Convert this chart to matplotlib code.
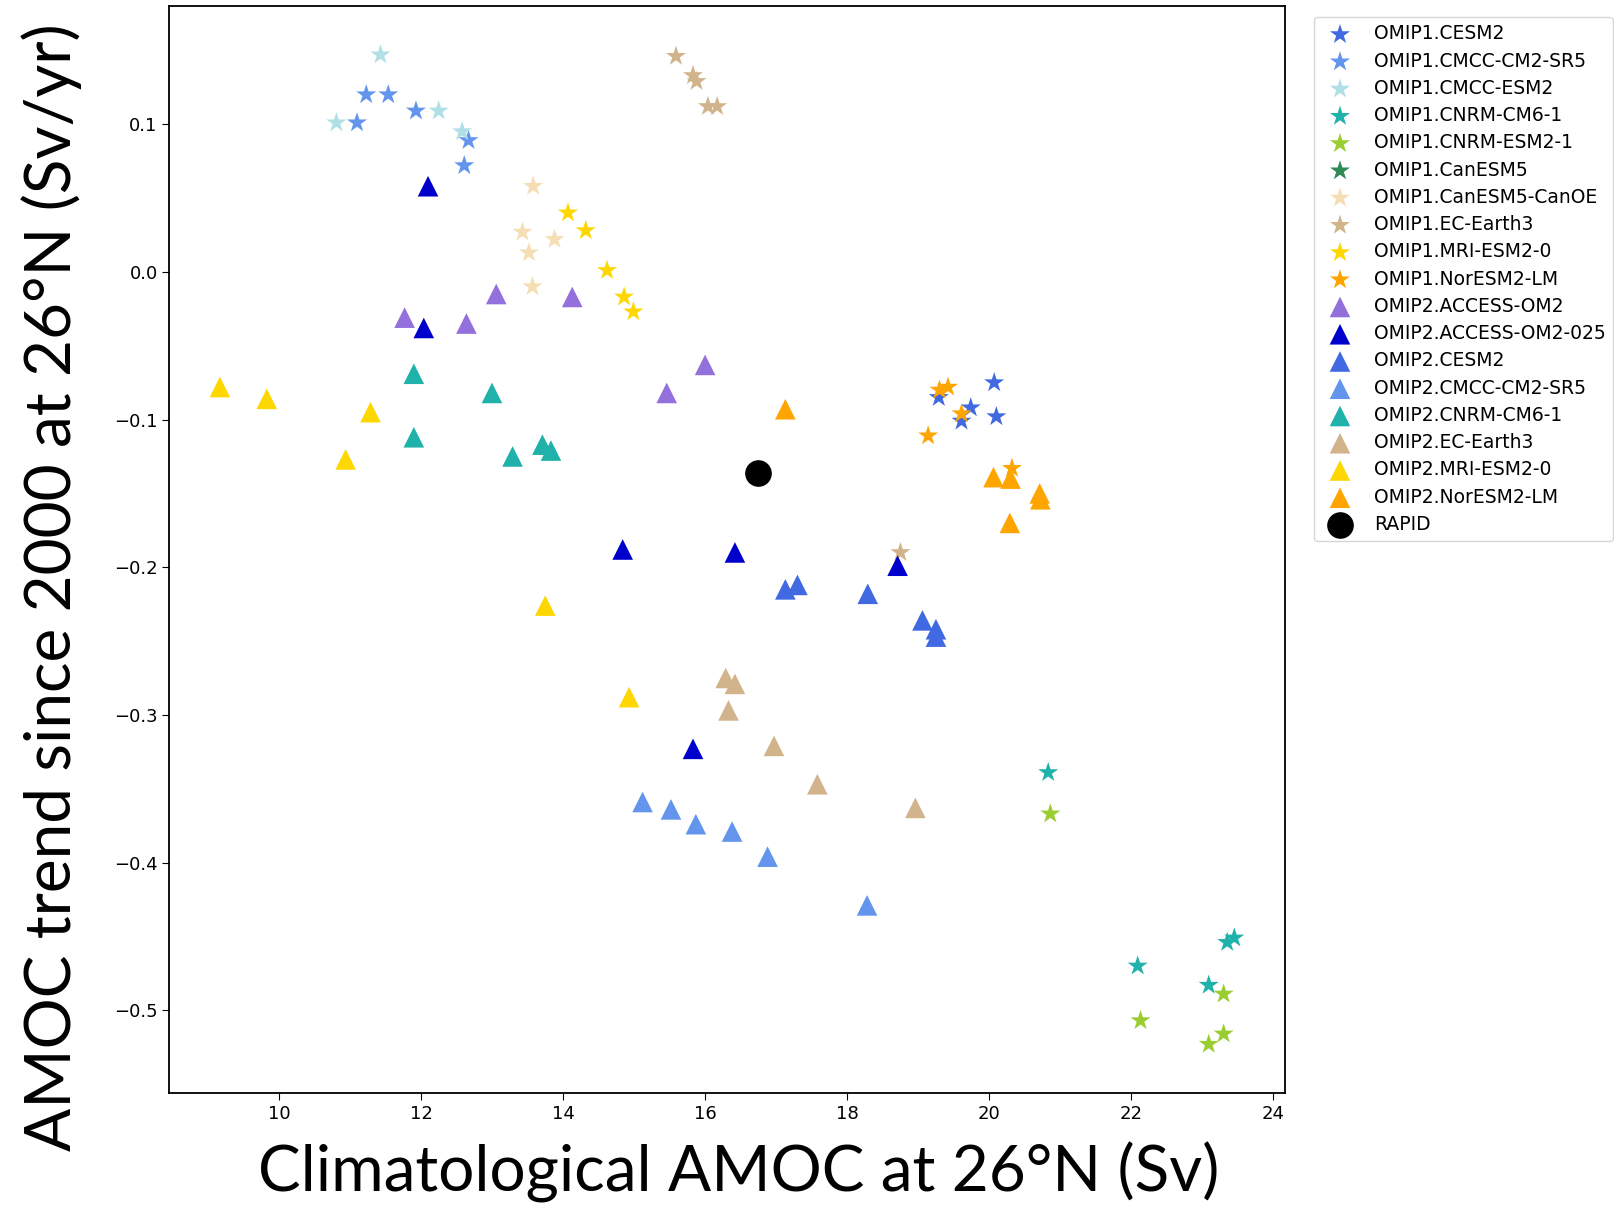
import numpy as np
import matplotlib
matplotlib.use("Agg")
import matplotlib.pyplot as plt

# Climatological AMOC (Sv) and AMOC trend since 2000 (Sv/yr), per model
labels = [
    "OMIP1.CESM2", "OMIP1.CMCC-CM2-SR5", "OMIP1.CMCC-ESM2", "OMIP1.CNRM-CM6-1",
    "OMIP1.CNRM-ESM2-1", "OMIP1.CanESM5", "OMIP1.CanESM5-CanOE", "OMIP1.EC-Earth3",
    "OMIP1.MRI-ESM2-0", "OMIP1.NorESM2-LM",
    "OMIP2.ACCESS-OM2", "OMIP2.ACCESS-OM2-025", "OMIP2.CESM2", "OMIP2.CMCC-CM2-SR5",
    "OMIP2.CNRM-CM6-1", "OMIP2.EC-Earth3", "OMIP2.MRI-ESM2-0", "OMIP2.NorESM2-LM",
]
colors = [
    "royalblue", "cornflowerblue", "powderblue", "lightseagreen",
    "yellowgreen", "seagreen", "wheat", "tan", "gold", "orange",
    "mediumpurple", "mediumblue", "royalblue", "cornflowerblue",
    "lightseagreen", "tan", "gold", "orange",
]

amoc = [
    [20.07, 19.29, 19.74, 19.61, 20.10],
    [11.23, 11.54, 11.10, 11.93, 12.67, 12.61],
    [11.43, 10.81, 12.25, 12.58],
    [20.83, 22.09, 23.09, 23.35, 23.45],
    [20.86, 22.13, 23.30, 23.09, 23.30],
    [],
    [13.58, 13.43, 13.88, 13.52, 13.57],
    [15.59, 15.83, 15.88, 16.04, 16.17, 18.75],
    [14.07, 14.32, 14.62, 14.86, 14.99],
    [19.30, 19.42, 19.61, 19.14, 20.32],
    [11.77, 12.64, 13.06, 14.13, 16.00, 15.46],
    [12.10, 12.04, 14.84, 16.42, 18.71, 15.83],
    [17.13, 17.30, 18.29, 19.06, 19.25, 19.25],
    [15.12, 15.52, 15.87, 16.38, 16.88, 18.28],
    [11.90, 11.90, 13.00, 13.29, 13.71, 13.83],
    [16.29, 16.42, 16.33, 16.97, 17.58, 18.96],
    [9.17, 9.83, 11.29, 10.94, 13.75, 14.93],
    [17.13, 20.06, 20.30, 20.71, 20.72, 20.29],
]
trend = [
    [-0.075, -0.085, -0.092, -0.101, -0.098],
    [0.120, 0.120, 0.101, 0.109, 0.089, 0.072],
    [0.147, 0.101, 0.109, 0.095],
    [-0.339, -0.470, -0.483, -0.454, -0.451],
    [-0.367, -0.507, -0.489, -0.523, -0.516],
    [],
    [0.058, 0.027, 0.022, 0.013, -0.010],
    [0.146, 0.133, 0.129, 0.112, 0.112, -0.190],
    [0.040, 0.028, 0.001, -0.017, -0.027],
    [-0.080, -0.078, -0.096, -0.111, -0.133],
    [-0.031, -0.035, -0.015, -0.017, -0.063, -0.082],
    [0.058, -0.038, -0.188, -0.190, -0.199, -0.323],
    [-0.215, -0.212, -0.218, -0.236, -0.242, -0.247],
    [-0.359, -0.364, -0.374, -0.379, -0.396, -0.429],
    [-0.069, -0.112, -0.082, -0.125, -0.117, -0.121],
    [-0.275, -0.279, -0.297, -0.321, -0.347, -0.363],
    [-0.078, -0.086, -0.095, -0.127, -0.226, -0.288],
    [-0.093, -0.139, -0.140, -0.150, -0.154, -0.170],
]

rapid_amoc = 16.74
rapid_trend = -0.136

fig = plt.figure(figsize=(16.14, 12.11), dpi=100)
ax = fig.add_axes([0.105, 0.0975, 0.691, 0.8975])

for i, name in enumerate(labels):
    if name.startswith("OMIP1"):
        ax.scatter(amoc[i], trend[i], marker="*", s=230, color=colors[i],
                   label=name, edgecolors="none")
    else:
        ax.scatter(amoc[i], trend[i], marker="^", s=220, color=colors[i],
                   label=name, edgecolors="none")
ax.scatter([rapid_amoc], [rapid_trend], marker="o", s=330, color="black",
           label="RAPID")

ax.set_xlim(8.46, 24.16)
ax.set_ylim(-0.556, 0.180)
ax.set_xticks([10, 12, 14, 16, 18, 20, 22, 24])
ax.set_yticks([-0.5, -0.4, -0.3, -0.2, -0.1, 0.0, 0.1])
ax.tick_params(labelsize=13, length=5)
for sp in ax.spines.values():
    sp.set_linewidth(1.3)

ax.set_xlabel("Climatological AMOC at 26°N (Sv)", fontsize=46, family="Lato")
ax.set_ylabel("AMOC trend since 2000 at 26°N (Sv/yr)", fontsize=46, family="Lato")
ax.xaxis.set_label_coords(0.51, -0.045)
ax.yaxis.set_label_coords(-0.078, 0.465)

ax.legend(loc="upper left", bbox_to_anchor=(1.026, 0.99), fontsize=13.5,
          borderaxespad=0, handletextpad=0.8, labelspacing=0.44)

fig.savefig("out.png", dpi=100)
